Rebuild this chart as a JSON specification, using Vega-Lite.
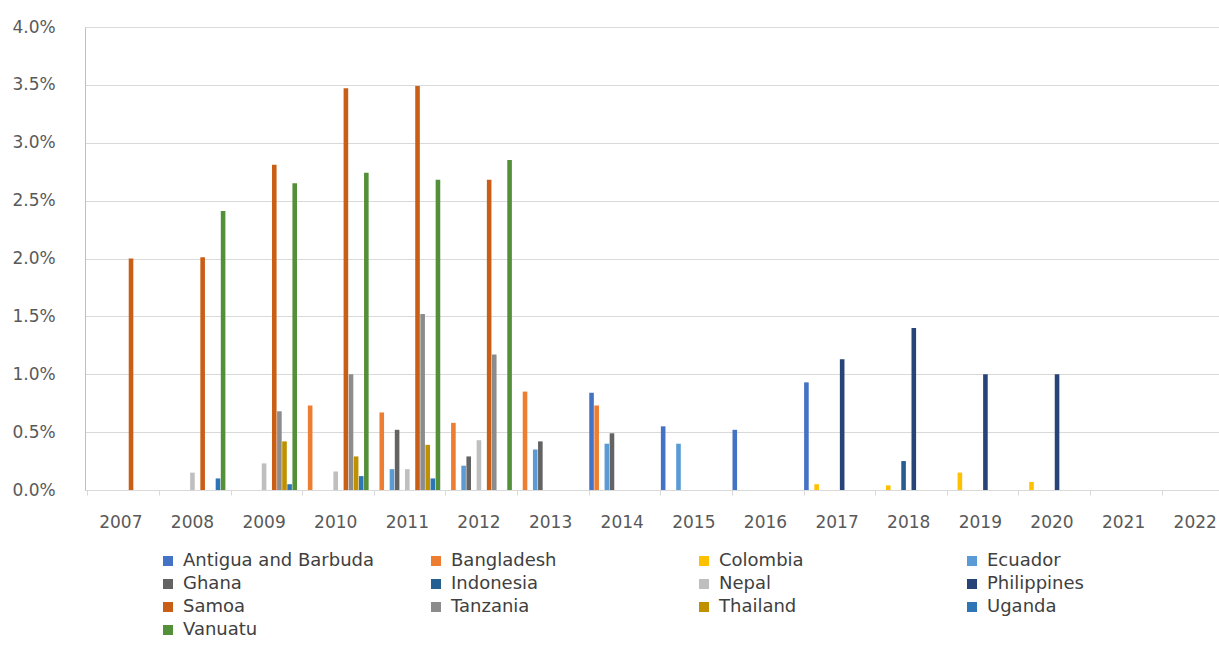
{
  "$schema": "https://vega.github.io/schema/vega-lite/v6.json",
  "autosize": "none",
  "padding": {"left": 85, "top": 27, "right": 0, "bottom": 172},
  "width": 1146,
  "height": 463,
  "background": "white",
  "data": {
    "values": [
      {"year": "2007", "country": "Samoa", "value": 0.0200},
      {"year": "2008", "country": "Nepal", "value": 0.0015},
      {"year": "2008", "country": "Samoa", "value": 0.0201},
      {"year": "2008", "country": "Uganda", "value": 0.0010},
      {"year": "2008", "country": "Vanuatu", "value": 0.0241},
      {"year": "2009", "country": "Nepal", "value": 0.0023},
      {"year": "2009", "country": "Samoa", "value": 0.0281},
      {"year": "2009", "country": "Tanzania", "value": 0.0068},
      {"year": "2009", "country": "Thailand", "value": 0.0042},
      {"year": "2009", "country": "Uganda", "value": 0.0005},
      {"year": "2009", "country": "Vanuatu", "value": 0.0265},
      {"year": "2010", "country": "Bangladesh", "value": 0.0073},
      {"year": "2010", "country": "Nepal", "value": 0.0016},
      {"year": "2010", "country": "Samoa", "value": 0.0347},
      {"year": "2010", "country": "Tanzania", "value": 0.0100},
      {"year": "2010", "country": "Thailand", "value": 0.0029},
      {"year": "2010", "country": "Uganda", "value": 0.0012},
      {"year": "2010", "country": "Vanuatu", "value": 0.0274},
      {"year": "2011", "country": "Bangladesh", "value": 0.0067},
      {"year": "2011", "country": "Ecuador", "value": 0.0018},
      {"year": "2011", "country": "Ghana", "value": 0.0052},
      {"year": "2011", "country": "Nepal", "value": 0.0018},
      {"year": "2011", "country": "Samoa", "value": 0.0349},
      {"year": "2011", "country": "Tanzania", "value": 0.0152},
      {"year": "2011", "country": "Thailand", "value": 0.0039},
      {"year": "2011", "country": "Uganda", "value": 0.0010},
      {"year": "2011", "country": "Vanuatu", "value": 0.0268},
      {"year": "2012", "country": "Bangladesh", "value": 0.0058},
      {"year": "2012", "country": "Ecuador", "value": 0.0021},
      {"year": "2012", "country": "Ghana", "value": 0.0029},
      {"year": "2012", "country": "Nepal", "value": 0.0043},
      {"year": "2012", "country": "Samoa", "value": 0.0268},
      {"year": "2012", "country": "Tanzania", "value": 0.0117},
      {"year": "2012", "country": "Vanuatu", "value": 0.0285},
      {"year": "2013", "country": "Bangladesh", "value": 0.0085},
      {"year": "2013", "country": "Ecuador", "value": 0.0035},
      {"year": "2013", "country": "Ghana", "value": 0.0042},
      {"year": "2014", "country": "Antigua and Barbuda", "value": 0.0084},
      {"year": "2014", "country": "Bangladesh", "value": 0.0073},
      {"year": "2014", "country": "Ecuador", "value": 0.0040},
      {"year": "2014", "country": "Ghana", "value": 0.0049},
      {"year": "2015", "country": "Antigua and Barbuda", "value": 0.0055},
      {"year": "2015", "country": "Ecuador", "value": 0.0040},
      {"year": "2016", "country": "Antigua and Barbuda", "value": 0.0052},
      {"year": "2017", "country": "Antigua and Barbuda", "value": 0.0093},
      {"year": "2017", "country": "Colombia", "value": 0.0005},
      {"year": "2017", "country": "Philippines", "value": 0.0113},
      {"year": "2018", "country": "Colombia", "value": 0.0004},
      {"year": "2018", "country": "Indonesia", "value": 0.0025},
      {"year": "2018", "country": "Philippines", "value": 0.0140},
      {"year": "2019", "country": "Colombia", "value": 0.0015},
      {"year": "2019", "country": "Philippines", "value": 0.0100},
      {"year": "2020", "country": "Colombia", "value": 0.0007},
      {"year": "2020", "country": "Philippines", "value": 0.0100}
    ]
  },
  "mark": {"type": "bar"},
  "encoding": {
    "x": {
      "field": "year",
      "type": "nominal",
      "sort": null,
      "scale": {
        "domain": ["2007","2008","2009","2010","2011","2012","2013","2014","2015","2016","2017","2018","2019","2020","2021","2022"],
        "paddingInner": 0.08,
        "paddingOuter": 0.04
      },
      "axis": {
        "title": null,
        "labelAngle": 0,
        "bandPosition": 0,
        "labelOffset": 0,
        "ticks": true,
        "tickSize": 5,
        "tickColor": "#D9D9D9",
        "domainColor": "#D9D9D9",
        "labelPadding": 19,
        "labelFont": "DejaVu Sans",
        "labelFontSize": 17,
        "labelColor": "#595959",
        "grid": false
      }
    },
    "xOffset": {
      "field": "country",
      "type": "nominal",
      "scale": {
        "domain": ["Antigua and Barbuda","Bangladesh","Colombia","Ecuador","Ghana","Indonesia","Nepal","Philippines","Samoa","Tanzania","Thailand","Uganda","Vanuatu"],
        "paddingInner": 0.1
      }
    },
    "y": {
      "field": "value",
      "type": "quantitative",
      "scale": {"domain": [0, 0.04], "nice": false},
      "axis": {
        "title": null,
        "format": ".1%",
        "values": [0, 0.005, 0.01, 0.015, 0.02, 0.025, 0.03, 0.035, 0.04],
        "ticks": false,
        "tickSize": 0,
        "labelAlign": "left",
        "labelPadding": 73,
        "labelFont": "DejaVu Sans",
        "labelFontSize": 17,
        "labelColor": "#595959",
        "domain": true,
        "domainColor": "#BFBFBF",
        "grid": true,
        "gridColor": "#D9D9D9"
      }
    },
    "color": {
      "field": "country",
      "type": "nominal",
      "scale": {
        "domain": ["Antigua and Barbuda","Bangladesh","Colombia","Ecuador","Ghana","Indonesia","Nepal","Philippines","Samoa","Tanzania","Thailand","Uganda","Vanuatu"],
        "range": ["#4472C4","#ED7D31","#FFC000","#5B9BD5","#636363","#255E91","#BFBFBF","#264478","#C95F17","#8C8C8C","#BF9000","#2E75B6","#548F3A"]
      },
      "legend": {
        "title": null,
        "orient": "none",
        "legendX": 74,
        "legendY": 525,
        "direction": "horizontal",
        "columns": 4,
        "gridAlign": "all",
        "columnPadding": 52,
        "rowPadding": 5,
        "symbolType": "square",
        "symbolSize": 100,
        "symbolStrokeWidth": 0,
        "labelOffset": 6,
        "labelFont": "DejaVu Sans",
        "labelFontSize": 18,
        "labelColor": "#404040",
        "labelLimit": 400
      }
    }
  },
  "config": {
    "view": {"stroke": null}
  }
}
